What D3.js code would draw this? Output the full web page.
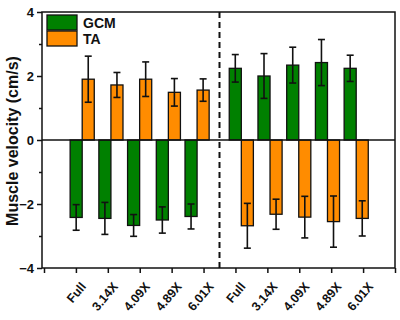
<!DOCTYPE html>
<html>
<head>
<meta charset="utf-8">
<script src="https://cdn.jsdelivr.net/npm/d3@7"></script>
<style>
  body { margin: 0; background: #fff; }
  svg { font-family: "Liberation Sans", Arial, sans-serif; font-weight: bold; }
</style>
</head>
<body>
<svg id="chart" width="400" height="320"></svg>
<script>
// data
const labels = ["Full", "3.14X", "4.09X", "4.89X", "6.01X", "Full", "3.14X", "4.09X", "4.89X", "6.01X"];
const gcm    = [-2.42, -2.45, -2.67, -2.50, -2.39, 2.24, 2.00, 2.34, 2.42, 2.24];
const gcmErr = [0.40, 0.50, 0.34, 0.41, 0.39, 0.43, 0.70, 0.56, 0.72, 0.41];
const ta     = [1.90, 1.72, 1.90, 1.49, 1.56, -2.68, -2.32, -2.41, -2.55, -2.45];
const taErr  = [0.72, 0.39, 0.54, 0.43, 0.35, 0.70, 0.47, 0.65, 0.80, 0.55];
const yTicks = [-4, -2, 0, 2, 4];
const yMinor = [-3, -1, 1, 3];

const svg = d3.select("#chart");
const mLeft = 42, mRight = 395, mTop = 12, mBottom = 268;

// tick axis scale (category ticks) and bar slot scale (bars sit a bit off the ticks)
const x = d3.scaleLinear().domain([0, 11]).range([44, mRight]);
const xb = d3.scaleLinear().domain([0, 9.54]).range([82.2, 356.2]);
const y = d3.scaleLinear().domain([-4, 4]).range([mBottom, mTop]);
const barW = 0.42;
const slot = i => i + (i >= 5 ? 0.54 : 0);

// bars
function drawBars(vals, errs, side, color) {
  const g = svg.append("g");
  vals.forEach((v, i) => {
    const s = slot(i);
    const x0 = side < 0 ? xb(s - barW) : xb(s);
    const x1 = side < 0 ? xb(s) : xb(s + barW);
    const cx = (x0 + x1) / 2;
    g.append("rect")
      .attr("x", x0)
      .attr("y", Math.min(y(v), y(0)))
      .attr("width", x1 - x0)
      .attr("height", Math.abs(y(v) - y(0)))
      .attr("fill", color)
      .attr("stroke", "#111")
      .attr("stroke-width", 1.3);
    const e1 = y(v + errs[i]), e2 = y(v - errs[i]);
    g.append("line").attr("x1", cx).attr("x2", cx).attr("y1", e1).attr("y2", e2)
      .attr("stroke", "#111").attr("stroke-width", 1.6);
    [e1, e2].forEach(ey => {
      g.append("line").attr("x1", cx - 3.5).attr("x2", cx + 3.5).attr("y1", ey).attr("y2", ey)
        .attr("stroke", "#111").attr("stroke-width", 1.6);
    });
  });
}
drawBars(gcm, gcmErr, -1, "#008000");
drawBars(ta, taErr, 1, "#ff8c00");

// zero line
svg.append("line").attr("x1", mLeft).attr("x2", mRight).attr("y1", y(0)).attr("y2", y(0))
  .attr("stroke", "#111").attr("stroke-width", 1.5);

// dashed divider
svg.append("line").attr("x1", x(5.5)).attr("x2", x(5.5)).attr("y1", mTop).attr("y2", mBottom)
  .attr("stroke", "#111").attr("stroke-width", 2).attr("stroke-dasharray", "6,4");

// frame
svg.append("rect").attr("x", mLeft).attr("y", mTop).attr("width", mRight - mLeft).attr("height", mBottom - mTop)
  .attr("fill", "none").attr("stroke", "#111").attr("stroke-width", 1.5);

// y axis
const yAxis = svg.append("g").attr("transform", `translate(${mLeft},0)`)
  .call(d3.axisLeft(y).tickValues(yTicks).tickSize(5).tickPadding(3).tickFormat(d3.format("d")));
yAxis.select(".domain").remove();
yAxis.selectAll("line").attr("stroke", "#111").attr("stroke-width", 1.5);
yAxis.selectAll("text").attr("font-size", 13).attr("font-weight", "bold").attr("font-family", "Liberation Sans, Arial").attr("fill", "#111");
svg.append("g").attr("transform", `translate(${mLeft},0)`)
  .call(d3.axisLeft(y).tickValues(yMinor).tickSize(3).tickFormat(""))
  .call(g => g.select(".domain").remove())
  .selectAll("line").attr("stroke", "#111").attr("stroke-width", 1.5);

// x axis
const xAxis = svg.append("g").attr("transform", `translate(0,${mBottom})`)
  .call(d3.axisBottom(x).tickValues(d3.range(0, 12)).tickSize(5)
    .tickFormat(d => (d >= 1 && d <= 10) ? labels[d - 1] : ""));
xAxis.select(".domain").remove();
xAxis.selectAll("line").attr("stroke", "#111").attr("stroke-width", 1.5);
xAxis.selectAll("text")
  .attr("font-size", 12.5).attr("font-weight", "bold").attr("font-family", "Liberation Sans, Arial").attr("fill", "#111")
  .attr("text-anchor", "end")
  .attr("transform", "translate(7,16) rotate(-50)")
  .attr("dy", "0.35em").attr("y", 0);

// y label
svg.append("text")
  .attr("transform", "rotate(-90)")
  .attr("x", -141)
  .attr("y", 18)
  .attr("text-anchor", "middle")
  .attr("font-size", 16)
  .attr("fill", "#111")
  .text("Muscle velocity (cm/s)");

// legend
const legend = [["GCM", "#008000"], ["TA", "#ff8c00"]];
legend.forEach((d, i) => {
  svg.append("rect").attr("x", 47).attr("y", 15 + i * 16).attr("width", 30).attr("height", 15)
    .attr("fill", d[1]).attr("stroke", "#111").attr("stroke-width", 1.3);
  svg.append("text").attr("x", 83).attr("y", 28 + i * 16).attr("font-size", 14).attr("fill", "#111").text(d[0]);
});
</script>
</body>
</html>
